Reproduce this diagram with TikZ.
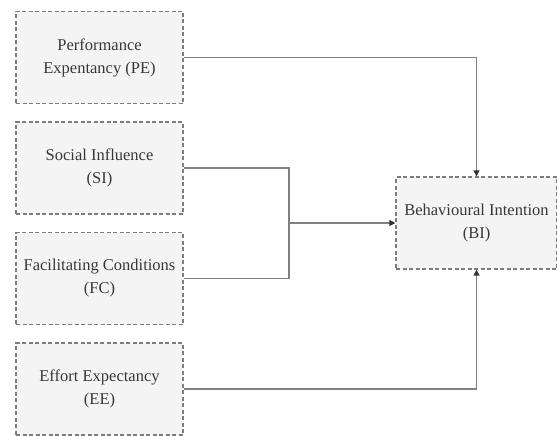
\documentclass[tikz,border=0pt]{standalone}
\usepackage{fontspec}
\setmainfont{Liberation Serif}
\usepackage{tikz}
\usepackage{xcolor}
\usetikzlibrary{arrows.meta, positioning}
\definecolor{boxfill}{RGB}{244, 244, 244}
\definecolor{boxline}{RGB}{125, 125, 125}
\definecolor{linkcolor}{RGB}{128, 128, 128}
\definecolor{textcolor}{RGB}{55, 55, 55}

\begin{document}
\begin{tikzpicture}[x=1pt, y=-1pt,
        factor/.style={draw=boxline, fill=boxfill, line width=1.3pt,
            dash pattern=on 4pt off 2.5pt, minimum width=167pt, minimum height=92pt,
            inner sep=0pt, align=center, text=textcolor,
            font=\fontsize{16.5}{23}\selectfont},
        link/.style={draw=linkcolor, line width=1.4pt},
        arrow/.style={link, -{Triangle[length=6pt, width=6pt, color=black!80]}}]
    \useasboundingbox (0,0) rectangle (557,436);
    % left column
    \node[factor] (PE) at (99.5,57.5) {Performance\\Expentancy (PE)};
    \node[factor] (SI) at (99.5,168) {Social Influence\\(SI)};
    \node[factor] (FC) at (99.5,278.5) {Facilitating Conditions\\(FC)};
    \node[factor] (EE) at (99.5,389) {Effort Expectancy\\(EE)};
    % target
    \node[factor, minimum width=161pt] (BI) at (476.5,223) {Behavioural Intention\\(BI)};
    \coordinate (join) at (289,223);
    % links
    \draw[arrow] (PE.east) -| (BI.north);
    \draw[link] (SI.east) -| (join);
    \draw[link] (FC.east) -| (join);
    \draw[arrow] (join) -- (BI.west);
    \draw[arrow] (EE.east) -| (BI.south);
\end{tikzpicture}
\end{document}
